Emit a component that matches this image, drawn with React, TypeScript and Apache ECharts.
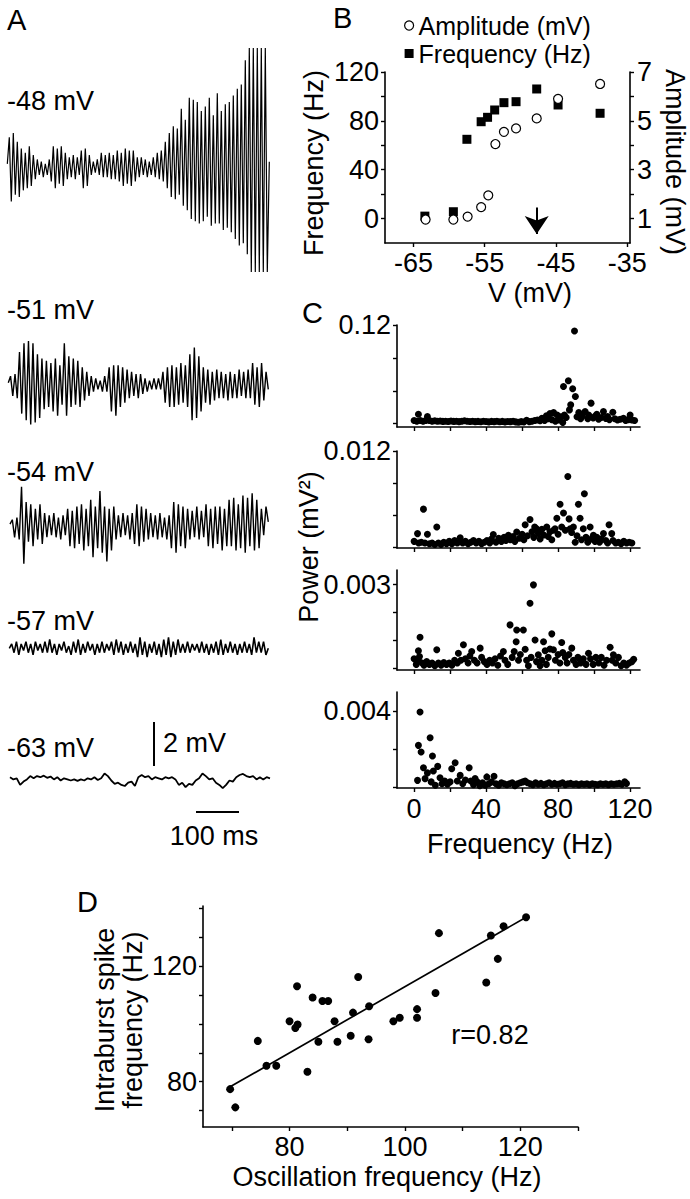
import React, { useEffect, useRef } from "react";
import * as echarts from "echarts";

// ---------- Panel A: membrane potential traces (mV relative to baseline, successive extrema) ----------
const trace48 = [0.2, 1.4, -1.5, 1.6, -1.2, 1.2, -1.3,
  0.9, -1.0, 0.7, -0.9, 1.0, -0.8, 0.6,
  -0.5, 0.4, -0.3, 0.3, -0.4, 0.2, -0.3, 0.4,
  -0.6, 1.0, -0.9, 0.9, -0.7, 1.0, -0.8, 0.7,
  -0.5, 0.5, -0.4, 0.6, -0.5, 0.5, -0.3,
  0.8, -0.9, 0.9, -0.8, 0.6,
  -0.3, 0.3, -0.2, 0.4,
  -0.3, 0.7, -0.4, 0.6, -0.4, 0.7, -0.5, 0.6,
  -0.5, 0.8, -0.6, 0.7, -0.8, 0.9, -0.7, 0.8, -0.8, 0.8, -0.6, 0.5,
  -0.4, 0.5, -0.3, 0.4, -0.4, 0.3, -0.3, 0.5,
  -0.4, 0.7, -0.5, 0.8, -0.6, 1.2, -0.9,
  1.6, -1.3, 1.9, -1.4, 1.8, -1.2, 2.7, -1.7,
  2.2, -1.9, 3.2, -2.3, 3.1, -2.4, 3.0, -2.5, 2.6,
  -2.4, 2.8, -2.2, 3.2, -2.6, 2.4, -2.5, 3.4, -2.5, 2.6,
  -2.8, 2.9, -2.7, 3.0, -2.9, 3.3, -3.2,
  3.6, -3.5, 3.8, -3.4, 4.9, -3.9, 5.45,
  -4.7, 5.45, -4.7, 5.45, -4.7, 5.45, -4.7, 5.45, -4.7, 0.3];

const trace51 = [0.1, 0.4, -0.5, 0.5, -0.6,
  1.5, -1.3, 1.9, -1.6, 2.0, -1.8, 1.9, -1.7, 1.4, -1.5, 1.2, -1.1,
  1.1, -1.0, 1.0, -1.2, 1.2, -1.4, 0.9, -0.9, 1.9,
  -1.4, 1.3, -1.0, 1.2, -0.9, 1.1, -1.0, 0.8, -0.7, 0.6,
  -0.5, 0.4, -0.3, 0.3, -0.2, 0.2, -0.3, 0.4, -0.3,
  0.8, -1.2, 0.9, -1.4, 0.9, -1.0, 0.8, -0.8, 0.7,
  -0.6, 0.6, -0.5, 0.5, -0.6, 0.5, -0.4, 0.3,
  -0.3, 0.2, -0.2, 0.3, -0.2, 0.3, -0.2,
  0.6, -0.8, 0.8, -1.0, 0.9, -1.0, 0.8, -0.9, 1.0, -0.8, 0.9, -1.0,
  1.4, -1.6, 1.7, -1.5, 1.3, -1.2,
  0.8, -0.8, 0.7, -0.9, 0.6, -0.7, 0.7, -0.6,
  0.6, -0.6, 0.5, -0.7, 0.6, -0.6, 0.5, -0.6, 0.7, -0.5, 0.6, -0.6, 0.7, -0.6, 1.0,
  -0.9, 0.8, -1.0, 1.0, -0.7, 0.6, -0.2];

const trace54 = [0.1, 0.3, -0.5, 0.4,
  -0.6, 1.8, -1.7,
  1.1, -0.7, 1.0, -0.9, 0.8, -0.6, 1.0, -0.8, 0.6,
  -0.5, 0.5, -0.4, 0.6, -0.5, 0.4, -0.6, 0.5, -0.4,
  0.8, -0.9, 0.7, -1.0, 0.9, -0.8, 1.0, -1.1, 0.8,
  -0.9, 1.2, -1.4, 0.9, -1.0, 1.6,
  -1.2, 0.9, -1.6, 0.8, -1.1, 0.9,
  -0.6, 0.5, -0.5, 0.6, -0.4, 0.5, -0.6, 0.6,
  -0.8, 1.0, -0.9, 0.9, -0.7, 0.8,
  -0.6, 0.6, -0.5, 0.5, -0.6, 0.6, -0.5, 0.4, -0.6, 0.5,
  -1.0, 1.1, -1.2, 1.0, -0.9, 0.9, -1.0,
  0.8, -0.6, 0.7, -0.5, 0.9, -0.6, 0.7, -0.5, 1.0,
  -0.9, 0.8, -1.0, 0.9, -0.8, 0.9, -1.1, 0.8, -0.9,
  1.2, -0.9, 1.3, -1.1, 1.0, -1.0, 1.4, -1.2, 1.3, -0.9, 1.5, -1.1, 1.2, -1.0,
  0.8, -0.4, 0.9, 0.2];

const trace57 = [0.0, 0.2, -0.2, 0.3, -0.3, 0.2, -0.1, 0.3, -0.2, 0.2, -0.3, 0.3, -0.1, 0.2, -0.2, 0.3, -0.2, 0.4, -0.2, 0.2,
  -0.3, 0.2, -0.1, 0.3, -0.2, 0.1, -0.3, 0.3, -0.2, 0.4, -0.3, 0.2, -0.2, 0.3, -0.1, 0.2, -0.3, 0.2, -0.2, 0.3,
  -0.2, 0.2, -0.1, 0.3, -0.3, 0.4, -0.2, 0.3, -0.3, 0.2, -0.2, 0.3, -0.2, 0.2, -0.4, 0.5, -0.3, 0.3, -0.4, 0.2,
  -0.2, 0.3, -0.3, 0.2, -0.4, 0.4, -0.3, 0.5, -0.4, 0.3, -0.3, 0.4, -0.2, 0.2, -0.2, 0.3, -0.2, 0.2, -0.1, 0.2,
  -0.2, 0.3, -0.2, 0.2, -0.3, 0.2, -0.2, 0.3, -0.3, 0.4, -0.3, 0.2, -0.2, 0.3, -0.2, 0.2, -0.3, 0.2, -0.2, 0.3,
  -0.2, 0.2, -0.3, 0.5, -0.2, 0.3, -0.2, 0.3, -0.3, 0.0];

const trace63 = [0.05, -0.05, 0.0, -0.3, -0.15, -0.05, 0.1, 0.0, 0.1, 0.05, 0.12, 0.02, 0.08, -0.05, 0.05, -0.1, 0.0, -0.05, -0.1, -0.05,
  -0.12, -0.05, -0.1, 0.0, -0.05, 0.05, -0.08, 0.0, 0.22, 0.1, -0.1, -0.25, -0.2, -0.3, -0.35, -0.2, -0.15, -0.35, 0.05, 0.15,
  0.05, 0.1, -0.05, 0.05, 0.0, -0.05, 0.05, 0.0, 0.05, -0.05, -0.3, -0.2, -0.4, -0.25, -0.3, -0.1, 0.0, 0.22, 0.1, -0.05,
  0.0, -0.2, -0.3, -0.45, -0.3, -0.1, -0.15, 0.05, 0.15, 0.2, 0.1, 0.05, 0.1, -0.05, 0.05, -0.05, 0.05, 0.0];

const traceLabels = ["-48 mV", "-51 mV", "-54 mV", "-57 mV", "-63 mV"];

// ---------- Panel B ----------
const bVoltageFreq = [-63.4, -59.4, -57.5, -55.5, -54.6, -53.6, -52.3, -50.6, -47.7, -44.7, -38.8];
const bFrequency = [2, 5.6, 64.9, 79.3, 82.9, 88.9, 94.9, 95.7, 106.1, 93, 86.2];
const bVoltageAmp = [-63.3, -59.4, -57.4, -55.5, -54.5, -53.5, -52.3, -50.6, -47.7, -44.7, -38.8];
const bAmplitude = [0.96, 0.96, 1.08, 1.47, 1.95, 4.05, 4.55, 4.69, 5.1, 5.9, 6.51];
const bArrowV = -47.7;
const bXTicks = [-65, -55, -45, -35];
const bFreqTicks = [0, 20, 40, 60, 80, 100, 120];
const bFreqLabels = [0, 40, 80, 120];
const bAmpTicks = [1, 2, 3, 4, 5, 6, 7];
const bAmpLabels = [1, 3, 5, 7];

// ---------- Panel C: power spectra [frequency Hz, power mV^2] ----------
const powerC1 = [
  [0, 0.004], [1.5, 0.003], [2.4, 0.0115], [3.5, 0.004], [5, 0.003], [6.5, 0.004], [7.4, 0.0086], [8.5, 0.004], [10, 0.003], [11.5, 0.0035],
  [13, 0.003], [14.5, 0.0032], [16, 0.0028], [17.5, 0.003], [19, 0.0026], [20.5, 0.0032], [22, 0.0028], [23.5, 0.003], [25, 0.0025], [26.5, 0.003],
  [28, 0.0036], [29.5, 0.003], [31, 0.0027], [32.5, 0.003], [34, 0.0025], [35.5, 0.0028], [37, 0.0024], [38.5, 0.003], [40, 0.0027], [41.5, 0.0022],
  [43, 0.0028], [44.5, 0.0025], [46, 0.003], [47.5, 0.0024], [49, 0.0028], [50.5, 0.0022], [52, 0.0027], [53.5, 0.0025], [55, 0.003], [56.5, 0.0022],
  [58, 0.0018], [59.5, 0.0025], [61, 0.002], [62.5, 0.0043], [64, 0.0025], [65.5, 0.003], [67, 0.0038], [68.5, 0.0045], [70, 0.0035], [71, 0.0065],
  [72.5, 0.004], [73.5, 0.0095], [74.5, 0.006], [75.5, 0.0125], [76.5, 0.005], [77.5, 0.0135], [78.5, 0.003], [79.5, 0.0105], [80.5, 0.0045], [81.5, 0.0085],
  [82.6, 0.0015], [83.5, 0.0105], [84.5, 0.0075], [83, 0.0453], [85.7, 0.0522], [86.3, 0.0168], [87, 0.0229], [88.1, 0.0424], [89.1, 0.1126], [89.6, 0.033],
  [90.5, 0.0085], [91.5, 0.0135], [92.5, 0.006], [93.5, 0.009], [95, 0.0147], [96.5, 0.006], [97, 0.0106], [98.3, 0.025], [99.5, 0.007], [100.5, 0.009],
  [101.5, 0.0114], [102.5, 0.0055], [104, 0.0075], [105.2, 0.0147], [106.5, 0.0065], [107.5, 0.0086], [108.5, 0.005], [110.4, 0.0139], [111.5, 0.006], [113, 0.0045],
  [114.5, 0.0055], [116.3, 0.0065], [117.5, 0.004], [119, 0.005], [120, 0.0106], [121, 0.0045], [122.5, 0.004],
];
const powerC2 = [
  [0, 0.0007], [1.9, 0.00167], [2.5, 0.0005], [4, 0.0006], [5.2, 0.00473], [6, 0.0005], [7.4, 0.00159], [8.5, 0.0004], [10, 0.0005], [11.5, 0.0003],
  [12.6, 0.00249], [13.5, 0.0005], [15, 0.0003], [16.5, 0.0006], [18, 0.0004], [19.5, 0.0007], [21, 0.0004], [22.5, 0.0008], [24, 0.0005], [25.6, 0.00114],
  [27, 0.0005], [28.5, 0.0007], [30, 0.0004], [31.5, 0.0006], [33, 0.0008], [34.5, 0.0005], [36, 0.0007], [37.5, 0.0004], [39, 0.0006], [40.5, 0.0008],
  [42, 0.0005], [43, 0.001], [44, 0.00155], [45.5, 0.0006], [47, 0.0011], [48.5, 0.0007], [50, 0.0012], [51, 0.0008], [52.4, 0.00147], [53.5, 0.0009],
  [55, 0.0013], [56, 0.0007], [57, 0.00188], [58.5, 0.0011], [60, 0.0016], [61, 0.0009], [61.7, 0.00277], [63, 0.0014], [64.4, 0.00343], [65.5, 0.0019],
  [66.5, 0.0012], [67, 0.0025], [68, 0.00228], [69, 0.0017], [70, 0.001], [71, 0.0022], [72, 0.0015], [73.7, 0.00249], [74.5, 0.0013], [75.5, 0.0019],
  [76.5, 0.0009], [77.5, 0.0021], [78.3, 0.00228], [79.3, 0.00359], [80, 0.0016], [81.1, 0.00534], [82, 0.0025], [83, 0.00424], [84, 0.0021], [85.4, 0.00881],
  [86.1, 0.00351], [86.7, 0.00228], [87.5, 0.0018], [88.5, 0.0025], [89.5, 0.0006], [90.5, 0.0014], [91.3, 0.00534], [92.2, 0.00359], [93, 0.0009], [94, 0.00228],
  [94.6, 0.00665], [95.5, 0.0012], [96.5, 0.0006], [97.8, 0.00249], [98.5, 0.001], [99.6, 0.00147], [100.5, 0.0007], [101.5, 0.0012], [103, 0.0006], [104, 0.001],
  [105.2, 0.00167], [106.5, 0.0008], [107.5, 0.0005], [108.3, 0.00277], [109.8, 0.00167], [110.5, 0.0008], [112, 0.0005], [113.5, 0.0006], [115, 0.0004], [116.5, 0.0007],
  [118, 0.0005], [119.5, 0.0006], [121, 0.0005],
];
const powerC3 = [
  [0, 0.00035], [1.2, 0.00015], [2.4, 0.00064], [3, 0.00043], [3.3, 0.00112], [2.4, 0.00031], [4.5, 0.0002], [5.5, 0.00012], [7, 0.00025], [8.5, 0.00015],
  [10, 0.0002], [11.5, 0.0001], [12.6, 0.00067], [13.5, 0.0002], [15, 0.00012], [16.5, 0.00022], [18, 0.00015], [19.5, 0.0002], [21, 0.00012], [22.5, 0.0003],
  [24, 0.0002], [24.6, 0.00055], [26, 0.0003], [27.4, 0.00085], [28.5, 0.00035], [30, 0.0002], [31, 0.00045], [32, 0.00061], [33.5, 0.0003], [35, 0.0002],
  [36.7, 0.00073], [37.5, 0.0004], [39, 0.00025], [40.5, 0.00015], [42, 0.0003], [43.5, 0.0002], [45, 0.00035], [46.5, 0.00012], [48, 0.00045], [49.6, 0.00061],
  [50.5, 0.0003], [52, 0.00015], [53.3, 0.00156], [54.5, 0.0004], [55.6, 0.00061], [56.7, 0.00096], [57, 0.00138], [58, 0.0003], [59, 0.0005], [60.7, 0.00138],
  [61.7, 0.00069], [62.5, 0.0003], [63.5, 0.0001], [64.4, 0.00233], [65, 0.0004], [66.3, 0.00299], [67.2, 0.00102], [68, 0.00025], [69, 0.00049], [70, 0.0001],
  [71, 0.0003], [71.9, 0.00096], [72.8, 0.00064], [73.5, 0.00015], [74.5, 0.0004], [75.5, 0.0007], [76.5, 0.00124], [77.4, 0.00067], [78.5, 0.0003], [80, 0.0005],
  [81, 0.0002], [82, 0.00093], [82.6, 0.00057], [84, 0.0004], [85, 0.0002], [86, 0.0005], [87.6, 0.00073], [88.5, 0.0003], [90, 0.00015], [91, 0.0004],
  [92.5, 0.0002], [94, 0.00035], [95.5, 0.00015], [96.9, 0.00055], [98, 0.00035], [99.5, 0.00015], [101, 0.0004], [102.5, 0.0002], [104, 0.0004], [105.5, 0.00012],
  [107, 0.0003], [108.9, 0.00076], [110, 0.0003], [110.7, 0.00049], [112, 0.0002], [113.5, 0.0004], [115, 0.0001], [116.5, 0.0002], [118, 0.00012], [119.5, 0.0002],
  [121, 0.00025], [122, 0.00033],
];
const powerC4 = [
  [1.9, 0.00038], [2.4, 0.00221], [3.3, 0.00395], [3.9, 0.00186], [5.2, 0.00104], [6.1, 0.00047], [7.4, 0.00077], [8.9, 0.00261], [9.5, 0.0003], [10.2, 0.00165],
  [10.7, 0.00087], [11.8, 0.00012], [13.1, 0.00111], [14.4, 0.00052], [15.5, 0.0002], [17, 0.00035], [18.5, 0.00018], [20, 0.0003], [20.9, 0.00099], [22.8, 0.0013],
  [24, 0.00035], [25.6, 0.00064], [27, 0.0002], [28.5, 0.0004], [30.6, 0.00104], [31.5, 0.00035], [33, 0.00015], [33.9, 0.00047], [35, 0.0003], [36.5, 0.0001],
  [38, 0.00025], [39.5, 0.00012], [40.4, 0.00056], [41.5, 0.0002], [43, 0.0003], [44.4, 0.00059], [45.5, 0.0002], [47, 0.00012], [48.5, 0.00025], [50, 0.0002],
  [51.5, 0.00015], [53, 0.0002], [54.5, 0.00025], [56, 0.0001], [57.5, 0.0002], [59, 0.00025], [60.5, 0.0003], [61.7, 0.00035], [63, 0.00025], [64.5, 0.0002],
  [66, 0.00015], [67.5, 0.00025], [69, 0.00018], [70.5, 0.00022], [72, 0.00015], [73.5, 0.0002], [75, 0.00025], [76.5, 0.00018], [78, 0.00022], [79.5, 0.00018],
  [81, 0.0002], [82.5, 0.00025], [84, 0.00015], [85.5, 0.0002], [87, 0.00022], [88.5, 0.00018], [90, 0.0002], [91.5, 0.00015], [93, 0.0002], [94.5, 0.00018],
  [96, 0.0002], [97.5, 0.00015], [99, 0.0002], [100.5, 0.00018], [102, 0.00015], [103.5, 0.0002], [105, 0.00018], [106.5, 0.0002], [108, 0.00015], [109.5, 0.0002],
  [111, 0.00018], [112.5, 0.0002], [114, 0.00022], [115.5, 0.00018], [117, 0.0003], [118, 0.00022],
];
const cFreqTicks = [0, 20, 40, 60, 80, 100, 120];
const cFreqLabels = [0, 40, 80, 120];
const cPowerTicks = [[0, 0.04, 0.08, 0.12], [0, 0.004, 0.008, 0.012], [0, 0.001, 0.002, 0.003], [0, 0.002, 0.004]];
const cPowerLabels = [[0.12], [0.012], [0.003], [0.004]];
const cPowerRange = [[-0.004, 0.12], [-0.00013, 0.012], [-0.00005, 0.00352], [-0.00002, 0.005]];

// ---------- Panel D ----------
const dOscillation = [69.7, 70.6, 74.5, 76.0, 77.7, 80.0, 81.0, 81.4, 81.3, 83.1, 84.0, 85.0, 85.7, 86.7, 87.8, 88.3,
  90.6, 91.0, 91.9, 93.7, 93.8, 98.0, 99.1, 102.1, 102.1, 105.3, 105.9, 114.1, 114.9, 116.1, 117.1, 121.0];
const dSpike = [77.4, 71.1, 94.1, 85.5, 85.5, 100.9, 98.6, 99.8, 113.0, 83.4, 109.1, 93.8, 107.9, 107.9, 100.9, 93.8,
  95.9, 103.9, 116.2, 94.7, 106.1, 100.9, 102.1, 105.1, 102.1, 110.7, 131.4, 114.3, 130.6, 122.5, 133.8, 136.9];
const dFitX = [69.7, 121.0];
const dFitY = [78.2, 136.9];
const dXTicks = [70, 80, 90, 100, 110, 120, 130];
const dXLabels = [80, 100, 120];
const dYTicks = [70, 80, 90, 100, 110, 120, 130, 140];
const dYLabels = [80, 120];

const FONT = "'Liberation Sans', Arial, Helvetica, sans-serif";
const BLACK = "#000";
const FS = 27;

function txt(text: string, x: number, y: number, o: any = {}) {
  const align = o.align || "left";
  return {
    type: "text",
    x,
    y,
    rotation: o.rotation || 0,
    silent: true,
    style: {
      text,
      fontSize: o.fontSize || FS,
      fontFamily: FONT,
      fill: BLACK,
      textAlign: align,
      align,
      textVerticalAlign: "middle",
      verticalAlign: "middle",
      lineHeight: o.lineHeight,
    },
  };
}

function lineEl(x1: number, y1: number, x2: number, y2: number) {
  return { type: "line", silent: true, shape: { x1, y1, x2, y2 }, style: { stroke: BLACK, lineWidth: 2 } };
}

function valAxis(grid: number, min: number, max: number, ticks: number[] | null, labels: number[] | null, margin = 6, extra: any = {}) {
  return {
    type: "value",
    gridIndex: grid,
    min,
    max,
    splitLine: { show: false },
    axisLine: { show: true, onZero: false, lineStyle: { color: BLACK, width: 1.6 } },
    axisTick: ticks
      ? { show: true, length: 4, customValues: ticks, lineStyle: { color: BLACK, width: 1.4 } }
      : { show: false },
    axisLabel: labels
      ? { show: true, customValues: labels, color: BLACK, fontSize: FS, fontFamily: FONT, margin }
      : { show: false },
    ...extra,
  };
}

function hiddenAxis(grid: number, min: number, max: number) {
  return { type: "value", gridIndex: grid, min, max, show: false, axisLine: { onZero: false } };
}

const traceList = [trace48, trace51, trace54, trace57, trace63];
const traceGrids = [
  { left: 7.3, width: 262, top: 48, height: 224 },
  { left: 8.3, width: 260, top: 319, height: 132 },
  { left: 10, width: 258.3, top: 460.3, height: 132 },
  { left: 9.3, width: 259, top: 582.3, height: 132 },
  { left: 10, width: 260, top: 712.3, height: 132 },
];
const traceRanges = [[-4.7, 5.45], [-3, 3], [-3, 3], [-3, 3], [-3, 3]];
const traceWidths = [1.2, 1.4, 1.4, 1.6, 1.8];
const traceLabelY = [101, 310, 472, 621, 748];

export default function App() {
  const ref = useRef<HTMLDivElement>(null);

  useEffect(() => {
    document.body.style.margin = "0";
    if (!ref.current) return;
    const chart = echarts.init(ref.current, null, { renderer: "svg" });

    const grids: any[] = [
      { left: 385, top: 72, width: 245, height: 171 },
      { left: 397, top: 325, width: 243, height: 102 },
      { left: 397, top: 451, width: 243, height: 97 },
      { left: 397, top: 570, width: 243, height: 100 },
      { left: 397, top: 692, width: 243, height: 96 },
      { left: 203, top: 906, width: 375, height: 221 },
      ...traceGrids,
    ].map((g) => ({ ...g, containLabel: false, outerBoundsMode: "none" }));

    const xAxes: any[] = [
      valAxis(0, -69, -34.6, bXTicks, bXTicks, 6),
      valAxis(1, -9.5, 125.5, cFreqTicks, null),
      valAxis(2, -9.5, 125.5, cFreqTicks, null),
      valAxis(3, -9.5, 125.5, cFreqTicks, null),
      valAxis(4, -9.5, 125.5, cFreqTicks, cFreqLabels, 7),
      valAxis(5, 65, 130, dXTicks, dXLabels, 6),
      ...traceList.map((t, i) => hiddenAxis(6 + i, 0, t.length - 1)),
    ];

    const yAxes: any[] = [
      valAxis(0, -20, 120, bFreqTicks, bFreqLabels, 6),
      valAxis(0, 0, 7, bAmpTicks, bAmpLabels, 7, { position: "right" }),
      ...cPowerRange.map((r, i) => valAxis(1 + i, r[0], r[1], cPowerTicks[i], cPowerLabels[i], 6)),
      valAxis(5, 64.3, 140.8, dYTicks, dYLabels, 6),
      ...traceRanges.map((r, i) => hiddenAxis(6 + i, r[0], r[1])),
    ];

    const series: any[] = [
      {
        type: "scatter",
        name: "Amplitude (mV)",
        xAxisIndex: 0,
        yAxisIndex: 1,
        data: bVoltageAmp.map((v, i) => [v, bAmplitude[i]]),
        symbol: "circle",
        symbolSize: 9,
        itemStyle: { color: "#fff", borderColor: BLACK, borderWidth: 1.2, opacity: 1 },
        z: 3,
      },
      {
        type: "scatter",
        name: "Frequency (Hz)",
        xAxisIndex: 0,
        yAxisIndex: 0,
        data: bVoltageFreq.map((v, i) => [v, bFrequency[i]]),
        symbol: "rect",
        symbolSize: 9,
        itemStyle: { color: BLACK, opacity: 1 },
        markLine: {
          silent: true,
          animation: false,
          symbol: ["none", "arrow"],
          symbolSize: 18,
          label: { show: false },
          lineStyle: { color: BLACK, width: 2, type: "solid", opacity: 1 },
          data: [[{ coord: [bArrowV, 9] }, { coord: [bArrowV, -12.6] }]],
        },
      },
      ...[powerC1, powerC2, powerC3, powerC4].map((d, i) => ({
        type: "scatter",
        name: "power" + i,
        xAxisIndex: 1 + i,
        yAxisIndex: 2 + i,
        data: d,
        symbol: "circle",
        symbolSize: 7,
        itemStyle: { color: BLACK, opacity: 1 },
      })),
      {
        type: "scatter",
        name: "bursts",
        xAxisIndex: 5,
        yAxisIndex: 6,
        data: dOscillation.map((v, i) => [v, dSpike[i]]),
        symbol: "circle",
        symbolSize: 8,
        itemStyle: { color: BLACK, opacity: 1 },
      },
      {
        type: "line",
        name: "fit",
        xAxisIndex: 5,
        yAxisIndex: 6,
        data: dFitX.map((v, i) => [v, dFitY[i]]),
        showSymbol: false,
        symbol: "none",
        lineStyle: { color: BLACK, width: 1.7 },
      },
      ...traceList.map((t, i) => ({
        type: "line",
        name: traceLabels[i],
        xAxisIndex: 6 + i,
        yAxisIndex: 7 + i,
        data: t.map((v, k) => [k, v]),
        showSymbol: false,
        symbol: "none",
        clip: true,
        lineStyle: { color: BLACK, width: traceWidths[i] },
      })),
    ];

    const graphic: any[] = [
      txt("A", 7, 20, { fontSize: 29 }),
      txt("B", 333, 18, { fontSize: 29 }),
      txt("C", 302, 313, { fontSize: 29 }),
      txt("D", 77, 902, { fontSize: 29 }),
      ...traceLabels.map((l, i) => txt(l, 7, traceLabelY[i])),
      lineEl(154, 722, 154, 766),
      txt("2 mV", 163, 743),
      lineEl(196, 812, 239, 812),
      txt("100 ms", 214, 836, { align: "center" }),
      txt("Frequency (Hz)", 314, 163, { align: "center", rotation: Math.PI / 2 }),
      txt("Amplitude (mV)", 675, 162, { align: "center", rotation: -Math.PI / 2 }),
      txt("V (mV)", 530, 293, { align: "center" }),
      txt("Power (mV²)", 309, 547, { align: "center", rotation: Math.PI / 2 }),
      txt("Frequency (Hz)", 520, 844, { align: "center" }),
      txt("r=0.82", 490, 1035, { align: "center" }),
      txt("Intraburst spike\nfrequency (Hz)", 119, 1020, { align: "center", rotation: Math.PI / 2, lineHeight: 28 }),
      txt("Oscillation frequency (Hz)", 387, 1177, { align: "center" }),
    ];

    chart.setOption({
      animation: false,
      backgroundColor: "#fff",
      textStyle: { fontFamily: FONT, color: BLACK },
      legend: {
        show: true,
        data: [
          { name: "Amplitude (mV)", icon: "circle", itemStyle: { color: "#fff", borderColor: BLACK, borderWidth: 1.2 } },
          { name: "Frequency (Hz)", icon: "rect", itemStyle: { color: BLACK } },
        ],
        orient: "vertical",
        left: 404,
        top: 13,
        padding: 0,
        itemWidth: 9,
        itemHeight: 9,
        itemGap: 3,
        selectedMode: false,
        textStyle: { fontSize: 25, fontFamily: FONT, color: BLACK, lineHeight: 25 },
      },
      grid: grids,
      xAxis: xAxes,
      yAxis: yAxes,
      series,
      graphic,
    });

    return () => chart.dispose();
  }, []);

  return <div ref={ref} style={{ width: 690, height: 1199 }} />;
}
